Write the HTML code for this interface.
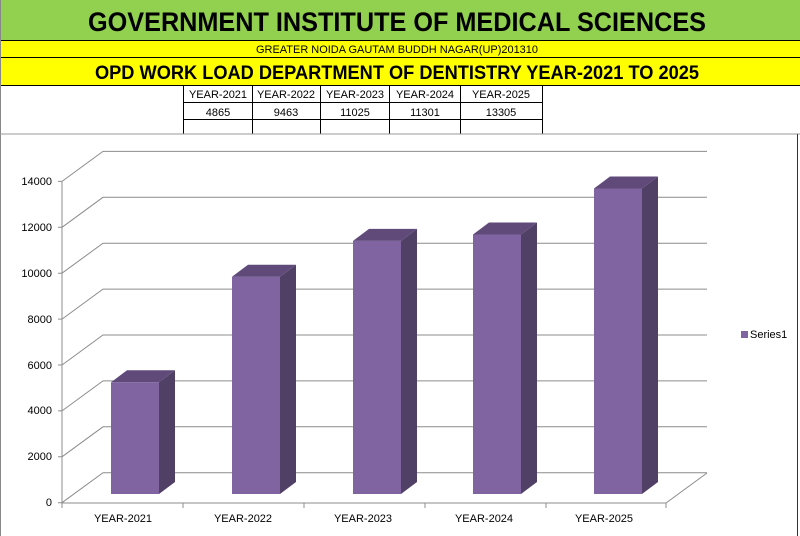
<!DOCTYPE html>
<html><head><meta charset="utf-8"><style>
body{margin:0;width:800px;height:536px;overflow:hidden;background:#fff;font-family:"Liberation Sans",sans-serif}
.a{position:absolute;left:0;width:800px;text-align:center;color:#000}
</style></head><body>
<div class="a" style="top:0;height:40px;background:#92D050;border-left:1px solid #888"></div>
<div class="a" style="top:40px;height:1px;background:#000"></div>
<div class="a" style="top:41px;height:16px;background:#ffff00"></div>
<div class="a" style="top:57px;height:1px;background:#000"></div>
<div class="a" style="top:58px;height:27px;background:#ffff00"></div>
<div class="a" style="top:85px;height:1px;background:#000"></div>
<svg width="800" height="536" style="position:absolute;left:0;top:0" font-family="Liberation Sans, sans-serif">
<text x="397" y="31" text-anchor="middle" font-size="27" font-weight="bold" textLength="618" lengthAdjust="spacingAndGlyphs">GOVERNMENT INSTITUTE OF MEDICAL SCIENCES</text>
<text x="397" y="53" text-anchor="middle" font-size="11" textLength="282" lengthAdjust="spacingAndGlyphs">GREATER NOIDA GAUTAM BUDDH NAGAR(UP)201310</text>
<text x="397" y="79" text-anchor="middle" font-size="19" font-weight="bold" textLength="604" lengthAdjust="spacingAndGlyphs">OPD WORK LOAD DEPARTMENT OF DENTISTRY YEAR-2021 TO 2025</text>
<line x1="0.5" y1="0" x2="0.5" y2="536" stroke="#888"/>
<g stroke="#000" stroke-width="1">
<line x1="183.5" y1="85" x2="183.5" y2="134"/><line x1="252.5" y1="85" x2="252.5" y2="134"/><line x1="320.5" y1="85" x2="320.5" y2="134"/><line x1="389.5" y1="85" x2="389.5" y2="134"/><line x1="460.5" y1="85" x2="460.5" y2="134"/><line x1="542.5" y1="85" x2="542.5" y2="134"/>
<line x1="183" y1="102.5" x2="543" y2="102.5"/><line x1="183" y1="119.5" x2="543" y2="119.5"/>
</g>
<g font-size="11" text-anchor="middle">
<text x="218" y="98">YEAR-2021</text><text x="286" y="98">YEAR-2022</text><text x="355" y="98">YEAR-2023</text><text x="425" y="98">YEAR-2024</text><text x="501" y="98">YEAR-2025</text>
<text x="218" y="116">4865</text><text x="286" y="116">9463</text><text x="355" y="116">11025</text><text x="425" y="116">11301</text><text x="501" y="116">13305</text>
</g>
<line x1="0" y1="134" x2="800" y2="134" stroke="#999"/>
<line x1="797.5" y1="134" x2="797.5" y2="536" stroke="#333"/>
<g stroke="#8c8c8c" stroke-width="1" fill="none">
<path d="M62 502.7L103 472.7H707M62 456.8L103 426.8H707M62 410.9L103 380.9H707M62 365L103 335H707M62 319.1L103 289.1H707M62 273.2L103 243.2H707M62 227.3L103 197.3H707M62 181.4L103 151.4H707"/>
<path d="M62 181V503H666L707 473"/>
<path d="M62 503v5M183 503v5M304 503v5M425 503v5M546 503v5M666 503v5M58 502.7h4M58 456.8h4M58 410.9h4M58 365h4M58 319.1h4M58 273.2h4M58 227.3h4M58 181.4h4"/>
</g>
<g font-size="11" text-anchor="end">
<text x="52" y="506">0</text><text x="52" y="460">2000</text><text x="52" y="414">4000</text><text x="52" y="369">6000</text><text x="52" y="323">8000</text><text x="52" y="277">10000</text><text x="52" y="231">12000</text><text x="52" y="185">14000</text>
</g>
<g font-size="11" text-anchor="middle">
<text x="123" y="522">YEAR-2021</text><text x="243" y="522">YEAR-2022</text><text x="363" y="522">YEAR-2023</text><text x="484" y="522">YEAR-2024</text><text x="604" y="522">YEAR-2025</text>
</g>
<g>
<rect x="111" y="382.3" width="48" height="111.7" fill="#8064a2"/><path d="M159 382.3l16-12V482l-16 12z" fill="#514066"/><path d="M111 382.3l16-12h48l-16 12z" fill="#5f4a7a"/>
<rect x="232" y="276.7" width="48" height="217.3" fill="#8064a2"/><path d="M280 276.7l16-12V482l-16 12z" fill="#514066"/><path d="M232 276.7l16-12h48l-16 12z" fill="#5f4a7a"/>
<rect x="353" y="240.9" width="48" height="253.1" fill="#8064a2"/><path d="M401 240.9l16-12V482l-16 12z" fill="#514066"/><path d="M353 240.9l16-12h48l-16 12z" fill="#5f4a7a"/>
<rect x="473" y="234.5" width="48" height="259.5" fill="#8064a2"/><path d="M521 234.5l16-12V482l-16 12z" fill="#514066"/><path d="M473 234.5l16-12h48l-16 12z" fill="#5f4a7a"/>
<rect x="594" y="188.5" width="48" height="305.5" fill="#8064a2"/><path d="M642 188.5l16-12V482l-16 12z" fill="#514066"/><path d="M594 188.5l16-12h48l-16 12z" fill="#5f4a7a"/>
</g>
<rect x="741" y="331" width="7" height="7" fill="#8064a2"/>
<text x="750" y="338" font-size="11">Series1</text>
</svg>
</body></html>
